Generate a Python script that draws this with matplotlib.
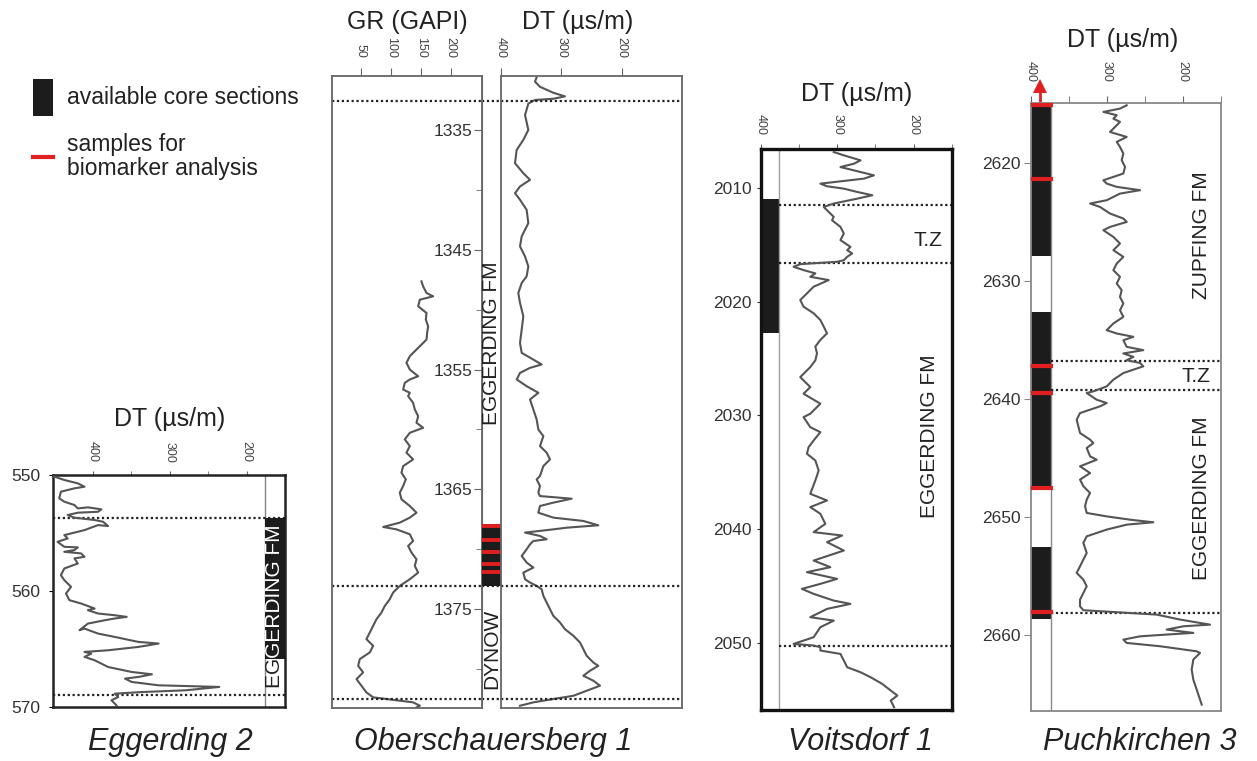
import matplotlib
matplotlib.use('Agg')
import matplotlib.pyplot as plt
from matplotlib.patches import Rectangle, Polygon
from matplotlib.lines import Line2D

plt.rcParams['font.family'] = ['Liberation Sans', 'DejaVu Sans']

# ---------------- data ----------------
# Eggerding 2: DT log
egg_depth = [550.09, 550.43, 550.72, 551.01, 551.15, 551.44, 552.01, 552.30, 552.59, 552.88,
             552.79, 552.96, 553.17, 553.25, 553.45, 553.68, 553.88, 554.03, 554.40, 554.32,
             554.75, 555.04, 555.18, 555.47, 555.76, 556.19, 556.24, 556.47, 556.62, 556.76,
             557.05, 557.19, 557.63, 558.06, 558.63, 559.06, 559.64, 560.22, 560.79, 561.08,
             561.51, 561.65, 561.94, 562.09, 562.23, 562.37, 562.52, 562.81, 563.38, 563.24,
             563.67, 563.96, 564.39, 564.53, 564.82, 565.11, 565.25, 565.40, 565.68, 565.97,
             566.55, 566.98, 567.18, 567.41, 567.55, 567.84, 568.13, 568.27, 568.56, 568.71,
             568.85, 569.14, 569.42, 569.86]
egg_dt = [452.6, 437.3, 419.7, 411.0, 424.1, 441.7, 443.9, 437.3, 424.1, 419.7,
          406.6, 389.0, 393.4, 419.7, 432.9, 424.1, 397.8, 386.8, 380.3, 393.4,
          411.0, 428.5, 437.3, 432.9, 446.1, 437.3, 419.7, 424.1, 437.3, 415.4,
          411.0, 424.1, 419.7, 437.3, 441.7, 437.3, 428.5, 435.1, 430.7, 415.4,
          397.8, 406.6, 393.4, 371.5, 356.1, 371.5, 384.6, 406.6, 417.5, 411.0,
          393.4, 371.5, 340.8, 314.5, 340.8, 380.3, 411.0, 402.2, 411.0, 397.8,
          380.3, 349.6, 323.2, 340.8, 358.3, 349.6, 314.5, 235.5, 279.4, 336.4,
          371.5, 367.1, 375.9, 369.3]
egg_tops = [553.7, 569.0]
egg_core = [(553.7, 565.9)]

# Oberschauersberg 1: GR and DT logs
obs_gr_depth = [1347.64, 1348.06, 1348.61, 1348.89, 1349.17, 1349.72, 1350.28, 1350.83, 1351.39, 1351.94,
                1352.50, 1352.78, 1353.33, 1353.89, 1354.44, 1355.00, 1355.56, 1355.83, 1356.11, 1356.67,
                1356.94, 1357.22, 1357.78, 1358.33, 1358.89, 1359.44, 1359.86, 1360.28, 1360.83, 1361.39,
                1361.94, 1362.50, 1363.06, 1363.61, 1364.17, 1364.72, 1365.28, 1365.83, 1366.39, 1366.95,
                1367.36, 1367.78, 1368.14, 1368.34, 1368.75, 1369.31, 1369.73, 1370.28, 1370.84, 1371.39,
                1371.95, 1372.50, 1373.06, 1373.61, 1374.17, 1374.73, 1375.28, 1375.84, 1376.39, 1376.95,
                1377.50, 1378.06, 1378.61, 1379.17, 1379.73, 1380.28, 1380.84, 1381.39, 1381.95, 1382.36,
                1382.50, 1382.78, 1383.06, 1383.20]
obs_gr = [151.1, 153.9, 159.5, 170.6, 148.4, 145.6, 159.5, 158.4, 162.2, 160.6,
          159.5, 153.9, 142.8, 131.7, 126.1, 131.7, 145.6, 131.7, 123.3, 120.6,
          131.7, 128.9, 137.2, 140.0, 145.6, 142.8, 153.9, 131.7, 123.3, 131.7,
          126.1, 137.2, 120.6, 117.8, 125.0, 120.6, 115.0, 117.8, 131.7, 142.8,
          131.7, 115.0, 87.2, 109.5, 131.7, 137.2, 128.9, 134.5, 142.8, 140.0,
          145.6, 131.7, 115.0, 103.9, 98.3, 90.0, 84.5, 76.1, 70.6, 65.0,
          59.4, 70.6, 65.0, 48.3, 45.6, 53.9, 42.8, 51.1, 59.4, 70.6,
          92.8, 137.2, 148.4, 142.8]
obs_dt_depth = [1330.6, 1330.97, 1331.4, 1331.9, 1332.2, 1332.4, 1332.5, 1332.8, 1333.3, 1333.75,
                1335.0, 1335.83, 1336.67, 1337.78, 1338.61, 1339.17, 1339.72, 1340.28, 1340.83, 1341.67,
                1342.78, 1343.89, 1344.72, 1345.56, 1346.39, 1347.22, 1347.78, 1348.61, 1349.44, 1350.56,
                1351.67, 1352.78, 1353.61, 1354.17, 1354.58, 1354.86, 1355.28, 1355.83, 1356.39, 1356.94,
                1357.50, 1358.33, 1359.17, 1360.0, 1360.56, 1361.39, 1361.94, 1362.50, 1363.06, 1363.89,
                1364.17, 1364.72, 1365.28, 1365.56, 1365.78, 1366.11, 1366.39, 1366.95, 1367.36, 1367.64,
                1368.0, 1368.2, 1368.34, 1368.61, 1368.89, 1369.17, 1369.31, 1369.59, 1370.0, 1370.56,
                1371.11, 1371.53, 1371.95, 1372.5, 1372.78, 1373.06, 1373.34, 1373.89, 1374.45, 1375.0,
                1375.56, 1376.11, 1376.67, 1377.22, 1377.78, 1378.34, 1378.89, 1379.45, 1379.73, 1380.14,
                1380.56, 1380.97, 1381.39, 1381.81, 1382.23, 1382.5, 1382.78, 1383.06]
obs_dt = [340.9, 343.6, 335.4, 313.3, 294.0, 313.3, 343.6, 354.7, 357.5, 360.2,
          354.7, 363.0, 374.0, 376.8, 363.0, 351.9, 368.5, 376.8, 368.5, 357.5,
          354.7, 365.7, 368.5, 360.2, 354.7, 357.5, 365.7, 371.3, 368.5, 363.0,
          365.7, 368.5, 365.7, 346.4, 332.6, 351.9, 368.5, 374.0, 357.5, 338.1,
          351.9, 346.4, 340.9, 338.1, 329.8, 335.4, 324.3, 318.8, 329.8, 335.4,
          340.9, 335.4, 338.1, 335.4, 282.9, 313.3, 335.4, 338.1, 313.3, 263.5,
          238.7, 291.2, 313.3, 360.2, 335.4, 324.3, 346.4, 351.9, 357.5, 365.7,
          357.5, 346.4, 363.0, 360.2, 351.9, 340.9, 332.6, 329.8, 324.3, 318.8,
          313.3, 302.2, 294.0, 280.1, 269.1, 263.5, 258.0, 247.0, 238.7, 252.5,
          263.5, 247.0, 235.9, 258.0, 280.1, 313.3, 346.4, 368.5]
obs_tops = [1332.6, 1373.06, 1382.5]
obs_core = [(1367.9, 1373.06)]
obs_samples = [1368.06, 1369.2, 1370.2, 1371.2, 1371.9]

# Voitsdorf 1: DT log
voi_depth = [2006.84, 2007.13, 2007.57, 2007.87, 2008.16, 2008.45, 2008.89, 2009.18, 2009.62, 2009.85,
             2010.06, 2010.35, 2010.64, 2010.94, 2011.37, 2011.67, 2011.96, 2012.54, 2012.84, 2013.42,
             2014.01, 2014.59, 2015.18, 2015.47, 2015.76, 2016.05, 2016.35, 2016.49, 2016.70, 2016.93,
             2017.22, 2017.51, 2017.81, 2018.10, 2018.68, 2019.27, 2019.85, 2020.44, 2021.02, 2021.61,
             2022.19, 2022.78, 2023.36, 2023.95, 2024.53, 2025.16, 2025.75, 2026.63, 2027.51, 2028.09,
             2028.97, 2029.85, 2030.15, 2031.03, 2031.47, 2032.20, 2032.79, 2033.37, 2033.96, 2034.84,
             2035.72, 2036.89, 2037.48, 2038.06, 2038.65, 2039.53, 2040.26, 2040.56, 2041.14, 2041.88,
             2042.76, 2043.34, 2043.78, 2044.37, 2044.81, 2045.25, 2045.69, 2046.28, 2046.57, 2047.01,
             2047.74, 2048.04, 2048.62, 2049.50, 2050.09, 2050.23, 2050.38, 2050.67, 2050.97, 2051.55,
             2052.14, 2052.58, 2053.02, 2053.61, 2054.19, 2054.63, 2055.07, 2055.66]
voi_dt = [304.4, 291.2, 269.3, 278.1, 295.6, 278.1, 251.8, 264.9, 321.9, 313.2,
          291.2, 273.7, 253.9, 273.7, 304.4, 317.5, 313.2, 304.4, 306.6, 295.6,
          291.2, 295.6, 282.5, 286.8, 280.3, 286.8, 291.2, 300.0, 348.2, 357.0,
          343.9, 328.5, 335.1, 311.0, 330.7, 339.5, 348.2, 343.9, 330.7, 321.9,
          317.5, 313.2, 321.9, 328.5, 326.3, 328.5, 335.1, 348.2, 335.1, 343.9,
          321.9, 335.1, 343.9, 335.1, 321.9, 330.7, 337.3, 339.5, 328.5, 324.1,
          328.5, 335.1, 313.2, 335.1, 321.9, 315.4, 330.7, 293.4, 313.2, 291.2,
          330.7, 308.8, 339.5, 300.0, 321.9, 346.1, 330.7, 304.4, 282.5, 313.2,
          335.1, 304.4, 321.9, 330.7, 357.0, 330.7, 321.9, 321.9, 295.6, 291.2,
          286.8, 269.3, 256.1, 240.8, 229.8, 221.1, 229.8, 225.4]
voi_tops = [2011.5, 2016.6, 2050.27]
voi_core = [(2010.94, 2022.75)]

# Puchkirchen 3: DT log
puc_depth = [2615.12, 2615.40, 2615.68, 2615.96, 2616.25, 2616.53, 2616.95, 2617.38, 2617.80, 2618.22,
             2618.65, 2619.21, 2619.77, 2620.34, 2620.90, 2621.47, 2621.75, 2622.03, 2622.31, 2622.60,
             2623.16, 2623.44, 2623.73, 2624.29, 2624.71, 2625.00, 2625.42, 2625.70, 2626.27, 2626.83,
             2627.39, 2627.96, 2628.52, 2629.09, 2629.65, 2630.22, 2630.78, 2631.35, 2631.91, 2632.48,
             2633.04, 2633.60, 2634.17, 2634.45, 2634.73, 2635.02, 2635.58, 2635.86, 2636.14, 2636.43,
             2636.71, 2636.95, 2637.23, 2637.80, 2638.36, 2638.93, 2639.35, 2639.49, 2640.06, 2640.34,
             2640.62, 2641.19, 2641.75, 2642.31, 2642.88, 2643.44, 2643.73, 2644.15, 2644.85, 2645.14,
             2645.70, 2646.27, 2646.83, 2647.39, 2647.96, 2648.52, 2649.09, 2649.65, 2649.94, 2650.22,
             2650.44, 2650.64, 2651.06, 2651.63, 2652.19, 2653.04, 2653.60, 2654.17, 2654.73, 2655.30,
             2655.86, 2656.43, 2656.99, 2657.56, 2657.89, 2658.04, 2658.26, 2658.68, 2659.11, 2659.25,
             2659.53, 2659.67, 2659.81, 2659.95, 2660.10, 2660.38, 2660.66, 2660.94, 2661.37, 2661.51,
             2662.07, 2662.92, 2663.77, 2664.61, 2665.46, 2665.88]
puc_dt = [273.7, 282.5, 304.4, 286.8, 291.2, 282.5, 289.0, 295.6, 273.7, 286.8,
          282.5, 278.1, 280.3, 275.9, 278.1, 304.4, 300.0, 286.8, 256.1, 282.5,
          300.0, 321.9, 308.8, 295.6, 278.1, 273.7, 295.6, 304.4, 291.2, 282.5,
          291.2, 278.1, 286.8, 291.2, 282.5, 286.8, 280.3, 282.5, 278.1, 282.5,
          278.1, 291.2, 300.0, 286.8, 264.9, 278.1, 273.7, 251.8, 278.1, 264.9,
          273.7, 256.1, 251.8, 278.1, 291.2, 300.0, 317.5, 326.3, 313.2, 300.0,
          308.8, 335.1, 339.5, 337.3, 335.1, 321.9, 317.5, 326.3, 321.9, 313.2,
          335.1, 321.9, 335.1, 330.7, 321.9, 326.3, 328.5, 326.3, 300.0, 269.3,
          238.6, 273.7, 300.0, 326.3, 330.7, 326.3, 330.7, 335.1, 339.5, 330.7,
          326.3, 330.7, 335.1, 335.1, 330.7, 291.2, 234.2, 203.5, 164.0, 199.1,
          221.1, 203.5, 186.0, 221.1, 256.1, 278.1, 273.7, 229.8, 181.6, 177.2,
          186.0, 188.2, 186.0, 181.6, 177.2, 175.0]
puc_tops = [2636.8, 2639.2, 2658.1]
puc_core = [(2614.9, 2627.9), (2632.6, 2647.6), (2652.5, 2658.6)]
puc_samples = [2615.1, 2621.4, 2637.2, 2639.5, 2647.5, 2658.0]

# ---------------- layout helpers ----------------
W, H = 1257, 761


def box(x0, y0, x1, y1):
    # pixel box (top-left origin) -> figure fraction rect
    return [x0 / W, 1 - y1 / H, (x1 - x0) / W, (y1 - y0) / H]


def fx(x):
    return x / W


def fy(y):
    return 1 - y / H


CURVE = '#555555'
CORE = '#1c1c1c'
RED = '#e02020'
TXT = '#222222'
DOT = dict(color='#222222', lw=1.6, linestyle=(0, (1, 1.2)))


def style_log(ax, frame_color, frame_lw, tlen, tpad):
    for s in ax.spines.values():
        s.set_color(frame_color)
        s.set_linewidth(frame_lw)
    ax.xaxis.tick_top()
    ax.tick_params(axis='x', which='both', direction='out', labelrotation=-90,
                   labelsize=9, labelcolor='#444444', color='#666666',
                   length=tlen, pad=tpad)


fig = plt.figure(figsize=(W / 100, H / 100), dpi=100)

# ---------------- legend ----------------
fig.add_artist(Rectangle((fx(33), fy(116)), 20 / W, 37 / H, transform=fig.transFigure,
                         facecolor=CORE, edgecolor='none'))
fig.add_artist(Line2D([fx(33), fx(53)], [fy(157), fy(157)], transform=fig.transFigure,
                      color=RED, lw=3))
fig.text(fx(67), fy(98), 'available core sections', fontsize=16.5, color=TXT, va='center')
fig.text(fx(67), fy(145), 'samples for', fontsize=16.5, color=TXT, va='center')
fig.text(fx(67), fy(168), 'biomarker analysis', fontsize=16.5, color=TXT, va='center')

# ---------------- Eggerding 2 ----------------
ax1 = fig.add_axes(box(53, 475, 285, 707))
style_log(ax1, '#222222', 1.8, 3, 6)
ax1.plot(egg_dt, egg_depth, color=CURVE, lw=1.5, zorder=3)
ax1.set_xlim(452, 150)
ax1.set_ylim(570, 550)
ax1.set_xticks([400, 300, 200])
ax1.set_xticks([350, 250], minor=True)
ax1.set_yticks([550, 560, 570])
ax1.tick_params(axis='y', direction='out', length=3, pad=6, labelsize=12.5,
                labelcolor='#333333')
f1 = (265 - 53) / 232
ax1.plot([f1, f1], [0, 1], transform=ax1.transAxes, color='#888888', lw=1)
for d in egg_tops:
    ax1.axhline(d, zorder=2, **DOT)
for top, bot in egg_core:
    core_patch = ax1.axhspan(top, bot, xmin=f1, xmax=1, facecolor=CORE, lw=0, zorder=4)
tw = ax1.text((f1 + 1) / 2, 561.3, 'EGGERDING FM', transform=ax1.get_yaxis_transform(),
              rotation=90, ha='center', va='center', fontsize=15, color='white',
              zorder=5, clip_on=True)
tw.set_clip_path(core_patch)
low_part = Rectangle((f1, egg_core[0][1]), 1 - f1, 10, transform=ax1.get_yaxis_transform())
tb = ax1.text((f1 + 1) / 2, 561.3, 'EGGERDING FM', transform=ax1.get_yaxis_transform(),
              rotation=90, ha='center', va='center', fontsize=15, color=TXT,
              zorder=5, clip_on=True)
tb.set_clip_path(low_part)
fig.text(fx(170), fy(419), 'DT (µs/m)', fontsize=18, color=TXT, ha='center', va='center')
fig.text(fx(170), fy(742), 'Eggerding 2', fontsize=22, style='italic', color=TXT,
         ha='center', va='center')

# ---------------- Oberschauersberg 1 ----------------
OBS_YLIM = (1383.25, 1330.5)
axg = fig.add_axes(box(332, 76, 482, 708))
axs = fig.add_axes(box(482, 76, 501, 708))
axd = fig.add_axes(box(501, 76, 682, 708))
style_log(axg, '#666666', 1.3, 6, 7)
style_log(axd, '#666666', 1.3, 6, 7)
axg.plot(obs_gr, obs_gr_depth, color=CURVE, lw=1.5)
axg.set_xlim(2, 252)
axg.set_xticks([50, 100, 150, 200])
axd.plot(obs_dt, obs_dt_depth, color=CURVE, lw=1.5)
axd.set_xlim(400, 100)
axd.set_xticks([400, 300, 200])
for a in (axg, axs, axd):
    a.set_ylim(*OBS_YLIM)
    for d in obs_tops:
        a.axhline(d, **DOT)
for a in (axg, axd):
    a.set_yticks([])

axs.set_xlim(0, 1)
axs.set_xticks([])
axs.spines['top'].set_visible(False)
axs.spines['bottom'].set_visible(False)
axs.spines['left'].set_color('#666666')
axs.spines['right'].set_color('#666666')
axs.patch.set_alpha(0)
axs.set_yticks([1335, 1345, 1355, 1365, 1375])
axs.set_yticks([1340, 1350, 1360, 1370, 1380], minor=True)
axs.tick_params(axis='y', which='major', direction='out', length=6, pad=1,
                labelsize=12.5, labelcolor='#333333', color='#666666')
axs.tick_params(axis='y', which='minor', direction='out', length=4.5, color='#666666')
for top, bot in obs_core:
    axs.axhspan(top, bot, facecolor=CORE, lw=0, zorder=4)
for d in obs_samples:
    axs.axhline(d, color=RED, lw=2.8, zorder=5)
axs.text(0.5, 1352.8, 'EGGERDING FM', rotation=90, ha='center', va='center',
         fontsize=15, color=TXT, transform=axs.get_yaxis_transform())
axs.text(0.5, 1378.3, 'DYNOW', rotation=90, ha='center', va='center',
         fontsize=15, color=TXT, transform=axs.get_yaxis_transform())
fig.text(fx(407), fy(22), 'GR (GAPI)', fontsize=18, color=TXT, ha='center', va='center')
fig.text(fx(578), fy(22), 'DT (µs/m)', fontsize=18, color=TXT, ha='center', va='center')
fig.text(fx(493), fy(742), 'Oberschauersberg 1', fontsize=22, style='italic', color=TXT,
         ha='center', va='center')

# ---------------- Voitsdorf 1 ----------------
axv = fig.add_axes(box(760.7, 149.3, 951.7, 710))
style_log(axv, '#111111', 2.4, 3.5, 7)
axv.plot(voi_dt, voi_depth, color=CURVE, lw=1.5, zorder=3)
axv.set_xlim(400, 150)
axv.set_ylim(2055.9, 2006.6)
axv.set_xticks([400, 300, 200])
axv.set_xticks([350, 250, 150], minor=True)
axv.set_yticks([2010, 2020, 2030, 2040, 2050])
axv.tick_params(axis='y', direction='out', length=3, pad=3.5, labelsize=12.5,
                labelcolor='#333333', color='#333333')
fv = (779.3 - 760.7) / 191
axv.plot([fv, fv], [0, 1], transform=axv.transAxes, color='#9aa0aa', lw=1)
for top, bot in voi_core:
    axv.axhspan(top, bot, xmin=0, xmax=fv, facecolor=CORE, lw=0)
for d in voi_tops:
    axv.axhline(d, xmin=fv, xmax=1, **DOT)
axv.text(0.953, 2014.6, 'T.Z', ha='right', va='center', fontsize=15, color=TXT,
         transform=axv.get_yaxis_transform())
axv.text(0.886, 2031.8, 'EGGERDING FM', rotation=90, ha='center', va='center',
         fontsize=15, color=TXT, transform=axv.get_yaxis_transform())
fig.text(fx(857), fy(94), 'DT (µs/m)', fontsize=18, color=TXT, ha='center', va='center')
fig.text(fx(860), fy(742), 'Voitsdorf 1', fontsize=22, style='italic', color=TXT,
         ha='center', va='center')

# ---------------- Puchkirchen 3 ----------------
axp = fig.add_axes(box(1030.7, 102.7, 1220.7, 710.7))
style_log(axp, '#888888', 1.3, 5, 10)
axp.plot(puc_dt, puc_depth, color=CURVE, lw=1.5, zorder=3)
axp.set_xlim(400, 150)
axp.set_ylim(2666.4, 2614.9)
axp.set_xticks([400, 300, 200])
axp.set_xticks([350, 250, 150], minor=True)
axp.set_yticks([2620, 2630, 2640, 2650, 2660])
axp.tick_params(axis='y', direction='out', length=5, pad=2.5, labelsize=12.5,
                labelcolor='#333333', color='#888888')
fp = 20 / 190
axp.plot([fp, fp], [0, 1], transform=axp.transAxes, color='#888888', lw=1)
for top, bot in puc_core:
    axp.axhspan(top, bot, xmin=0, xmax=fp, facecolor=CORE, lw=0)
for d in puc_samples:
    axp.axhline(d, xmin=0, xmax=fp, color=RED, lw=3, zorder=4)
for d in puc_tops:
    axp.axhline(d, xmin=fp, xmax=1, **DOT)
# red arrow on top of the core column
axp.add_patch(Polygon([(0.012, 1.016), (0.086, 1.016), (0.049, 1.039)], closed=True,
                      transform=axp.transAxes, facecolor=RED, edgecolor='none',
                      clip_on=False))
axp.plot([0.049, 0.049], [1.0, 1.017], transform=axp.transAxes, color=RED, lw=2,
         clip_on=False)
axp.text(0.947, 2638.1, 'T.Z', ha='right', va='center', fontsize=15, color=TXT,
         transform=axp.get_yaxis_transform())
axp.text(0.9, 2626.1, 'ZUPFING FM', rotation=90, ha='center', va='center',
         fontsize=15, color=TXT, transform=axp.get_yaxis_transform())
axp.text(0.9, 2648.4, 'EGGERDING FM', rotation=90, ha='center', va='center',
         fontsize=15, color=TXT, transform=axp.get_yaxis_transform())
fig.text(fx(1123), fy(40), 'DT (µs/m)', fontsize=18, color=TXT, ha='center', va='center')
fig.text(fx(1140), fy(742), 'Puchkirchen 3', fontsize=22, style='italic', color=TXT,
         ha='center', va='center')

fig.savefig('out.png', dpi=100)
